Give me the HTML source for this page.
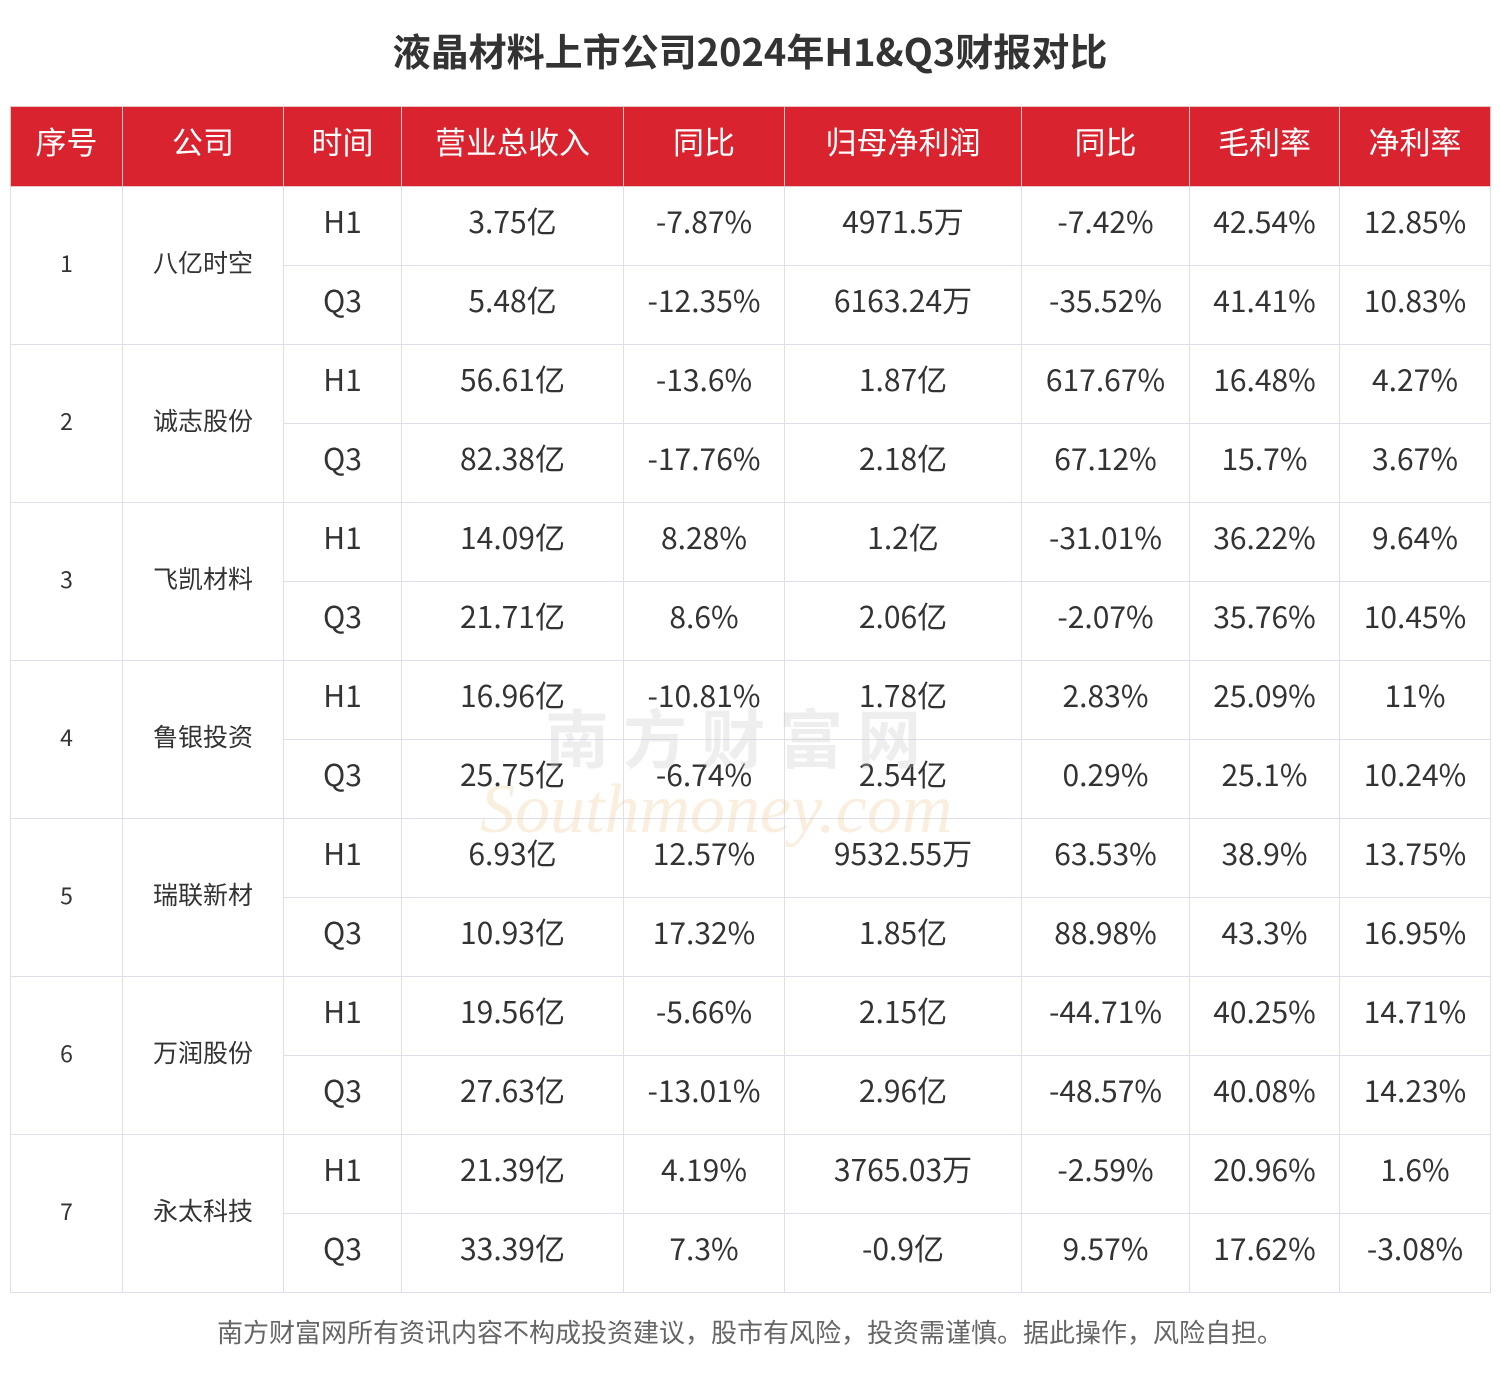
<!DOCTYPE html>
<html><head><meta charset="utf-8"><style>
body{margin:0;width:1500px;height:1393px;background:#fff;font-family:"Noto Sans CJK SC","Liberation Sans",sans-serif;position:relative;overflow:hidden}
.t{position:absolute;left:0;width:1500px;top:23px;text-align:center;font-size:38px;font-weight:bold;color:#333;line-height:54px}
table{position:absolute;left:10px;top:106px;border-collapse:collapse;table-layout:fixed;width:1480px}
td,th{border:1px solid #dde0ea;text-align:center;padding:0 0 12px 0;color:#333;font-size:30px;font-weight:normal;height:66px;line-height:40px}
th{background:#d9232f;color:#fff;font-size:31px;border-color:#e8c4c8;height:67px}
td.n{font-size:23px;padding-bottom:8px;height:148px}td.c{font-size:25px;padding-bottom:8px;height:148px}
.f{position:absolute;left:0;width:1500px;top:1312px;text-align:center;font-size:26px;color:#666;line-height:40px}
.wm{position:absolute;left:545px;top:690px;font-size:64px;color:rgba(200,200,200,.3);letter-spacing:14px;font-weight:bold}
.wm2{position:absolute;left:480px;top:770px;font-size:70px;color:rgba(240,200,150,.3);font-family:"Liberation Serif",serif;font-style:italic}
</style></head><body>
<div class="t">液晶材料上市公司2024年H1&amp;Q3财报对比</div>
<table>
<colgroup><col style="width:112px"><col style="width:161px"><col style="width:118px"><col style="width:222px"><col style="width:161px"><col style="width:237px"><col style="width:168px"><col style="width:150px"><col style="width:151px"></colgroup>
<tr><th>序号</th><th>公司</th><th>时间</th><th>营业总收入</th><th>同比</th><th>归母净利润</th><th>同比</th><th>毛利率</th><th>净利率</th></tr>
<tr><td rowspan="2" class="n">1</td><td rowspan="2" class="c">八亿时空</td><td>H1</td><td>3.75亿</td><td>-7.87%</td><td>4971.5万</td><td>-7.42%</td><td>42.54%</td><td>12.85%</td></tr>
<tr><td>Q3</td><td>5.48亿</td><td>-12.35%</td><td>6163.24万</td><td>-35.52%</td><td>41.41%</td><td>10.83%</td></tr>
<tr><td rowspan="2" class="n">2</td><td rowspan="2" class="c">诚志股份</td><td>H1</td><td>56.61亿</td><td>-13.6%</td><td>1.87亿</td><td>617.67%</td><td>16.48%</td><td>4.27%</td></tr>
<tr><td>Q3</td><td>82.38亿</td><td>-17.76%</td><td>2.18亿</td><td>67.12%</td><td>15.7%</td><td>3.67%</td></tr>
<tr><td rowspan="2" class="n">3</td><td rowspan="2" class="c">飞凯材料</td><td>H1</td><td>14.09亿</td><td>8.28%</td><td>1.2亿</td><td>-31.01%</td><td>36.22%</td><td>9.64%</td></tr>
<tr><td>Q3</td><td>21.71亿</td><td>8.6%</td><td>2.06亿</td><td>-2.07%</td><td>35.76%</td><td>10.45%</td></tr>
<tr><td rowspan="2" class="n">4</td><td rowspan="2" class="c">鲁银投资</td><td>H1</td><td>16.96亿</td><td>-10.81%</td><td>1.78亿</td><td>2.83%</td><td>25.09%</td><td>11%</td></tr>
<tr><td>Q3</td><td>25.75亿</td><td>-6.74%</td><td>2.54亿</td><td>0.29%</td><td>25.1%</td><td>10.24%</td></tr>
<tr><td rowspan="2" class="n">5</td><td rowspan="2" class="c">瑞联新材</td><td>H1</td><td>6.93亿</td><td>12.57%</td><td>9532.55万</td><td>63.53%</td><td>38.9%</td><td>13.75%</td></tr>
<tr><td>Q3</td><td>10.93亿</td><td>17.32%</td><td>1.85亿</td><td>88.98%</td><td>43.3%</td><td>16.95%</td></tr>
<tr><td rowspan="2" class="n">6</td><td rowspan="2" class="c">万润股份</td><td>H1</td><td>19.56亿</td><td>-5.66%</td><td>2.15亿</td><td>-44.71%</td><td>40.25%</td><td>14.71%</td></tr>
<tr><td>Q3</td><td>27.63亿</td><td>-13.01%</td><td>2.96亿</td><td>-48.57%</td><td>40.08%</td><td>14.23%</td></tr>
<tr><td rowspan="2" class="n">7</td><td rowspan="2" class="c">永太科技</td><td>H1</td><td>21.39亿</td><td>4.19%</td><td>3765.03万</td><td>-2.59%</td><td>20.96%</td><td>1.6%</td></tr>
<tr><td>Q3</td><td>33.39亿</td><td>7.3%</td><td>-0.9亿</td><td>9.57%</td><td>17.62%</td><td>-3.08%</td></tr>
</table>
<div class="wm">南方财富网</div>
<div class="wm2">Southmoney.com</div>
<div class="f">南方财富网所有资讯内容不构成投资建议，股市有风险，投资需谨慎。据此操作，风险自担。</div>
</body></html>
